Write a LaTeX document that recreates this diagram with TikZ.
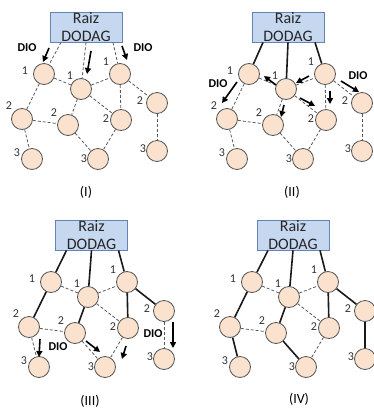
\documentclass[tikz,border=0pt]{standalone}
\usepackage{fontspec}
\setmainfont{Carlito}
\usetikzlibrary{arrows.meta}
\definecolor{boxfill}{RGB}{198,216,240}
\definecolor{boxline}{RGB}{100,130,180}
\definecolor{nodefill}{RGB}{251,226,206}
\definecolor{nodeline}{RGB}{85,85,85}
\definecolor{dashc}{RGB}{90,90,90}
\tikzset{
 rootbox/.style={draw=boxline, line width=0.8pt, fill=boxfill, minimum width=72pt, minimum height=30pt, inner sep=0pt, align=center, font=\fontsize{16}{18}\selectfont, text=black!85},
 nd/.style={circle, draw=nodeline, line width=0.8pt, fill=nodefill, minimum size=21pt, inner sep=0pt},
 lvl/.style={font=\fontsize{12}{14}\selectfont, text=black!80, inner sep=0pt},
 dsh/.style={draw=dashc, line width=0.8pt, dash pattern=on 3pt off 2pt},
 sol/.style={draw=black!90, line width=1.6pt},
 msg/.style={draw=black, line width=1.6pt, -{Triangle[length=6pt,width=6pt]}},
 dio/.style={font=\bfseries\fontsize{12}{14}\selectfont, inner sep=0pt},
 captxt/.style={font=\fontsize{14}{16}\selectfont, inner sep=0pt},
}
\newcommand\drawpanel[4]{%
\begin{scope}[shift={(#2,#3)}]
 \node[rootbox] (#1R) at (#4,27) {Raiz\\DODAG};
 \coordinate (#1ra) at ([xshift=-25pt]#1R.south);
 \coordinate (#1rb) at ([xshift=0pt]#1R.south);
 \coordinate (#1rc) at ([xshift=27pt]#1R.south);
 \node[nd] (#1A1) at (44,74) {};
 \node[nd] (#1B1) at (81,89) {};
 \node[nd] (#1C1) at (120,74) {};
 \node[nd] (#1A2) at (22,119) {};
 \node[nd] (#1B2) at (68,125) {};
 \node[nd] (#1C2) at (121,120) {};
 \node[nd] (#1D2) at (157,103) {};
 \node[nd] (#1A3) at (32,159) {};
 \node[nd] (#1B3) at (98,159) {};
 \node[nd] (#1D3) at (157,151) {};
 \node[lvl] (#1lA1) at (25,71) {1};
 \node[lvl] (#1lB1) at (70,76) {1};
 \node[lvl] (#1lC1) at (106,62) {1};
 \node[lvl] (#1lA2) at (9,106) {2};
 \node[lvl] (#1lB2) at (54,113) {2};
 \node[lvl] (#1lC2) at (106,119) {2};
 \node[lvl] (#1lD2) at (140,101) {2};
 \node[lvl] (#1lA3) at (17,153) {3};
 \node[lvl] (#1lB3) at (84,159) {3};
 \node[lvl] (#1lD3) at (143,149) {3};
\end{scope}}
\begin{document}
\begin{tikzpicture}[x=1pt,y=-1pt]
\path[use as bounding box, clip] (0,0) rectangle (374,408);
\fill[white] (0,0) rectangle (374,408);

% ---------- Panel I ----------
\drawpanel{a}{0}{0}{86}
\draw[dsh] (ara) -- (aA1);
\draw[dsh] (arb) -- (aB1);
\draw[dsh] (arc) -- (aC1);
\draw[dsh] (aA1) -- (aB1);
\draw[dsh] (aB1) -- (aC1);
\draw[dsh] (aC1) -- (aD2);
\draw[dsh] (aA1) -- (aA2);
\draw[dsh] (aB1) -- (aB2);
\draw[dsh] (aB1) -- (aC2);
\draw[dsh] (aC1) -- (aC2);
\draw[dsh] (aA2) -- (aB2);
\draw[dsh] (aA2) -- (aA3);
\draw[dsh] (aB2) -- (aB3);
\draw[dsh] (aC2) -- (aB3);
\draw[dsh] (aD2) -- (aD3);
\coordinate (am1s) at (49,48); \coordinate (am1e) at (43,62);
\coordinate (am2s) at (91,51); \coordinate (am2e) at (87,74);
\coordinate (am3s) at (122,46); \coordinate (am3e) at (127,60);
\draw[msg] (am1s) -- (am1e);
\draw[msg] (am2s) -- (am2e);
\draw[msg] (am3s) -- (am3e);
\node[dio] (adio1) at (27,48) {DIO};
\node[dio] (adio2) at (143,48) {DIO};
\node[captxt] (acap) at (86,192) {(I)};

% ---------- Panel II ----------
\drawpanel{b}{205}{0}{83}
\draw[sol] (bra) -- (bA1);
\draw[sol] (brb) -- (bB1);
\draw[sol] (brc) -- (bC1);
\draw[dsh] (bA1) -- (bB1);
\draw[dsh] (bB1) -- (bC1);
\draw[dsh] (bC1) -- (bD2);
\draw[dsh] (bA1) -- (bA2);
\draw[dsh] (bB1) -- (bB2);
\draw[dsh] (bB1) -- (bC2);
\draw[dsh] (bC1) -- (bC2);
\draw[dsh] (bA2) -- (bB2);
\draw[dsh] (bA2) -- (bA3);
\draw[dsh] (bB2) -- (bB3);
\draw[dsh] (bC2) -- (bB3);
\draw[dsh] (bD2) -- (bD3);
\coordinate (bm1s) at (237,82); \coordinate (bm1e) at (222,103);
\coordinate (bm2s) at (276,85); \coordinate (bm2e) at (264,76);
\coordinate (bm3s) at (309,76); \coordinate (bm3e) at (296,83);
\coordinate (bm4s) at (300,98); \coordinate (bm4e) at (315,106);
\coordinate (bm5s) at (284,105); \coordinate (bm5e) at (281,117);
\coordinate (bm6s) at (330,91); \coordinate (bm6e) at (330,104);
\coordinate (bm7s) at (341,81); \coordinate (bm7e) at (359,92);
\draw[msg] (bm1s) -- (bm1e);
\draw[msg] (bm2s) -- (bm2e);
\draw[msg] (bm3s) -- (bm3e);
\draw[msg] (bm4s) -- (bm4e);
\draw[msg] (bm5s) -- (bm5e);
\draw[msg] (bm6s) -- (bm6e);
\draw[msg] (bm7s) -- (bm7e);
\node[dio] (bdio1) at (218,84) {DIO};
\node[dio] (bdio2) at (358,76) {DIO};
\node[captxt] (bcap) at (292,192) {(II)};

% ---------- Panel III ----------
\drawpanel{c}{7}{208}{84.5}
\draw[sol] (cra) -- (cA1);
\draw[sol] (crb) -- (cB1);
\draw[sol] (crc) -- (cC1);
\draw[dsh] (cA1) -- (cB1);
\draw[dsh] (cB1) -- (cC1);
\draw[sol] (cC1) -- (cD2);
\draw[sol] (cA1) -- (cA2);
\draw[sol] (cB1) -- (cB2);
\draw[dsh] (cB1) -- (cC2);
\draw[sol] (cC1) -- (cC2);
\draw[dsh] (cA2) -- (cB2);
\draw[dsh] (cA2) -- (cA3);
\draw[dsh] (cB2) -- (cB3);
\draw[dsh] (cC2) -- (cB3);
\draw[dsh] (cD2) -- (cD3);
\coordinate (cm1s) at (40,339); \coordinate (cm1e) at (39,357);
\coordinate (cm2s) at (86,341); \coordinate (cm2e) at (100,352);
\coordinate (cm3s) at (126,346); \coordinate (cm3e) at (122,359);
\coordinate (cm4s) at (173,322); \coordinate (cm4e) at (173,348);
\draw[msg] (cm1s) -- (cm1e);
\draw[msg] (cm2s) -- (cm2e);
\draw[msg] (cm3s) -- (cm3e);
\draw[msg] (cm4s) -- (cm4e);
\node[dio] (cdio1) at (58,347) {DIO};
\node[dio] (cdio2) at (153,334) {DIO};
\node[captxt] (ccap) at (90,401) {(III)};

% ---------- Panel IV ----------
\drawpanel{d}{208}{208}{85}
\draw[sol] (dra) -- (dA1);
\draw[sol] (drb) -- (dB1);
\draw[sol] (drc) -- (dC1);
\draw[dsh] (dA1) -- (dB1);
\draw[dsh] (dB1) -- (dC1);
\draw[sol] (dC1) -- (dD2);
\draw[sol] (dA1) -- (dA2);
\draw[sol] (dB1) -- (dB2);
\draw[dsh] (dB1) -- (dC2);
\draw[sol] (dC1) -- (dC2);
\draw[dsh] (dA2) -- (dB2);
\draw[sol] (dA2) -- (dA3);
\draw[sol] (dB2) -- (dB3);
\draw[dsh] (dC2) -- (dB3);
\draw[sol] (dD2) -- (dD3);
\node[captxt] (dcap) at (299,399) {(IV)};
\end{tikzpicture}
\end{document}
